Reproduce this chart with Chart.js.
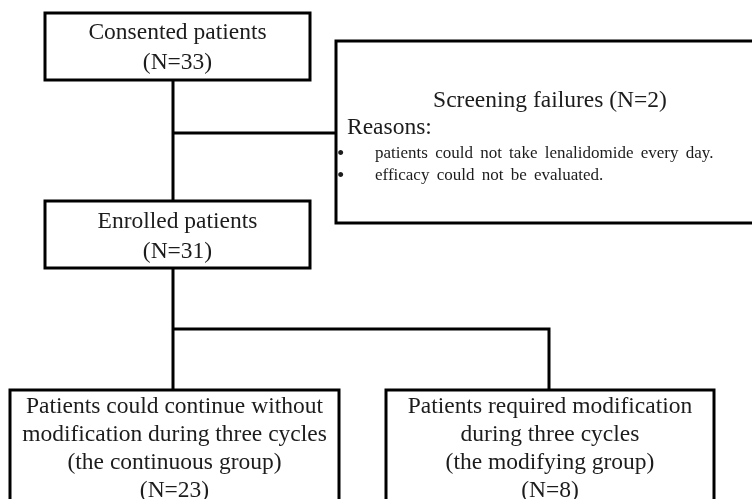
<!DOCTYPE html>
<html>
<head>
<meta charset="utf-8">
<script src="https://cdn.jsdelivr.net/npm/chart.js@4/dist/chart.umd.min.js"></script>
<style>
  html, body { margin: 0; padding: 0; background: #ffffff; }
  #flow { display: block; }
</style>
</head>
<body>
<canvas id="flow" width="752" height="499"></canvas>
<script>
// Stages of the flow and their patient counts
const stageNames = ['Consented patients', 'Screening failures', 'Enrolled patients', 'continuous', 'modifying'];
const stageCounts = [33, 2, 31, 23, 8];
const failureReasons = [
    'patients could not take lenalidomide every day.',
    'efficacy could not be evaluated.'
];
const groupTitles = [
    ['Patients could continue without', 'modification during three cycles', '(the continuous group)'],
    ['Patients required modification', 'during three cycles', '(the modifying group)']
];

// Layout of the boxes, in the 752 x 499 frame units of the chart scales
const boxLayout = {
    consented:  { x0: 45,  x1: 310, y0: 13,  y1: 80 },
    screening:  { x0: 336, x1: 770, y0: 41,  y1: 223 },
    enrolled:   { x0: 45,  x1: 310, y0: 201, y1: 268 },
    continuous: { x0: 10,  x1: 339, y0: 390, y1: 520 },
    modifying:  { x0: 386, x1: 714, y0: 390, y1: 520 }
};
const trunkX = 173;
const failBranchY = 133;
const splitY = 329;
const modifyX = 549;

const INK = '#000000';
const TEXT = '#1c1c1c';
const SERIF = '"Liberation Serif", "Times New Roman", serif';

function nLabel(n) {
    return '(N=' + n + ')';
}

// connectors, built from the box layout
function connectorSets() {
    const b = boxLayout;
    const seg = (pts) => ({
        data: pts.map(p => ({ x: p[0], y: p[1] })),
        showLine: true,
        borderColor: INK,
        borderWidth: 3,
        pointRadius: 0,
        fill: false,
        tension: 0
    });
    return [
        seg([[trunkX, b.consented.y1], [trunkX, b.enrolled.y0]]),
        seg([[trunkX, failBranchY], [b.screening.x0, failBranchY]]),
        seg([[trunkX, b.enrolled.y1], [trunkX, b.continuous.y0]]),
        seg([[trunkX, splitY], [modifyX, splitY], [modifyX, b.modifying.y0]])
    ];
}

function drawBox(ctx, xs, ys, box) {
    const l = xs.getPixelForValue(box.x0), r = xs.getPixelForValue(box.x1);
    const t = ys.getPixelForValue(box.y0), btm = ys.getPixelForValue(box.y1);
    ctx.save();
    ctx.fillStyle = '#ffffff';
    ctx.fillRect(l, t, r - l, btm - t);
    ctx.strokeStyle = INK;
    ctx.lineWidth = 3;
    ctx.strokeRect(l, t, r - l, btm - t);
    ctx.restore();
    return { l, r, t, b: btm, cx: (l + r) / 2, cy: (t + btm) / 2 };
}

function centredLines(ctx, lines, cx, firstY, step) {
    ctx.textAlign = 'center';
    ctx.textBaseline = 'middle';
    lines.forEach((s, i) => ctx.fillText(s, cx, firstY + i * step));
}

const flowPlugin = {
    id: 'flowBoxes',
    beforeDatasetsDraw(chart) {
        const ctx = chart.ctx;
        ctx.save();
        ctx.fillStyle = '#ffffff';
        ctx.fillRect(0, 0, chart.width, chart.height);
        ctx.restore();
    },
    afterDatasetsDraw(chart) {
        const ctx = chart.ctx;
        const xs = chart.scales.x, ys = chart.scales.y;

        ctx.save();
        ctx.font = '23.5px ' + SERIF;

        // consented / enrolled
        let p = drawBox(ctx, xs, ys, boxLayout.consented);
        ctx.fillStyle = TEXT;
        centredLines(ctx, [stageNames[0], nLabel(stageCounts[0])], p.cx, p.cy - 14, 30);

        p = drawBox(ctx, xs, ys, boxLayout.enrolled);
        ctx.fillStyle = TEXT;
        centredLines(ctx, [stageNames[2], nLabel(stageCounts[2])], p.cx, p.cy - 13, 30);

        // screening failures
        p = drawBox(ctx, xs, ys, boxLayout.screening);
        ctx.fillStyle = TEXT;
        ctx.textAlign = 'center';
        ctx.textBaseline = 'middle';
        ctx.fillText(stageNames[1] + ' ' + nLabel(stageCounts[1]), 550, p.t + 60);
        ctx.textAlign = 'left';
        ctx.fillText('Reasons:', p.l + 11, p.t + 87);
        ctx.wordSpacing = '3px';
        failureReasons.forEach((s, i) => {
            const y = p.t + 113 + i * 22;
            ctx.font = '21px ' + SERIF;
            ctx.fillText('\u2022', p.l + 1, y);
            ctx.font = '17px ' + SERIF;
            ctx.fillText(s, p.l + 39, y);
        });
        ctx.wordSpacing = '0px';

        // the two groups
        ctx.font = '23.5px ' + SERIF;
        ['continuous', 'modifying'].forEach((key, i) => {
            const q = drawBox(ctx, xs, ys, boxLayout[key]);
            ctx.fillStyle = TEXT;
            const lines = groupTitles[i].concat([nLabel(stageCounts[3 + i])]);
            centredLines(ctx, lines, q.cx, q.t + 17, 28);
        });
        ctx.restore();
    }
};

new Chart(document.getElementById('flow'), {
    type: 'scatter',
    data: { datasets: connectorSets() },
    options: {
        responsive: false,
        animation: false,
        devicePixelRatio: 1,
        layout: { padding: 0 },
        plugins: {
            legend: { display: false },
            tooltip: { enabled: false }
        },
        scales: {
            x: { type: 'linear', min: 0, max: 752, display: false },
            y: { type: 'linear', min: 0, max: 499, reverse: true, display: false }
        }
    },
    plugins: [flowPlugin]
});
</script>
</body>
</html>
